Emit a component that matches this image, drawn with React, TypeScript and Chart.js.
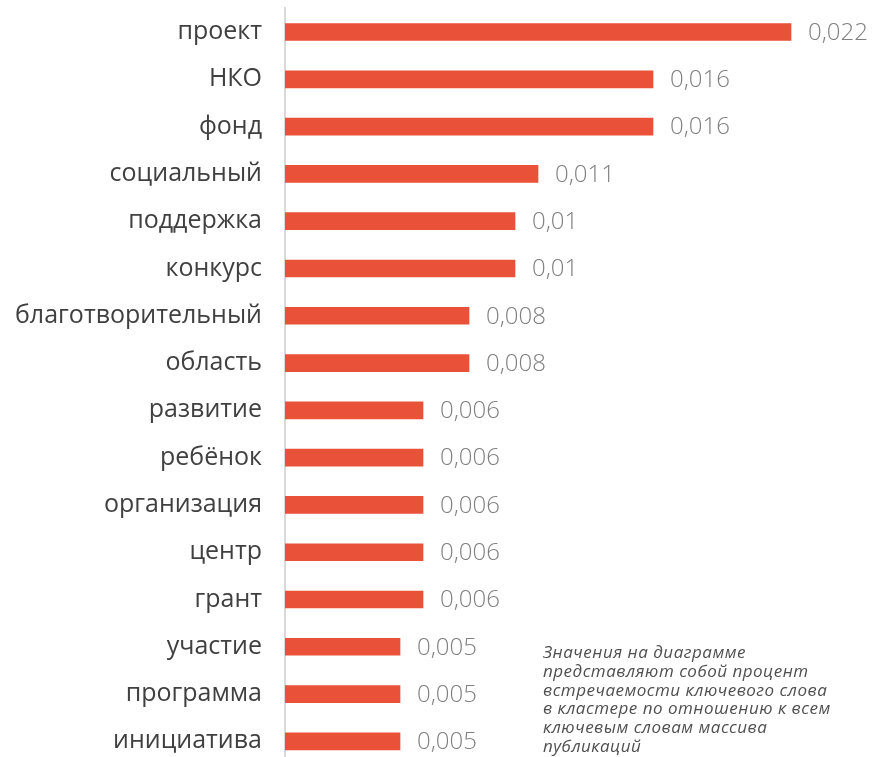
import React, { useEffect, useRef } from "react";
import { Chart, registerables } from "chart.js";

Chart.register(...registerables);

const categories = [
  "проект",
  "НКО",
  "фонд",
  "социальный",
  "поддержка",
  "конкурс",
  "благотворительный",
  "область",
  "развитие",
  "ребёнок",
  "организация",
  "центр",
  "грант",
  "участие",
  "программа",
  "инициатива",
];

const values = [0.022, 0.016, 0.016, 0.011, 0.01, 0.01, 0.008, 0.008, 0.006, 0.006, 0.006, 0.006, 0.006, 0.005, 0.005, 0.005];

const valueLabels = values.map((v) => String(v).replace(".", ","));

const noteLines = [
  "Значения на диаграмме",
  "представляют собой процент",
  "встречаемости ключевого слова",
  "в кластере по отношению к всем",
  "ключевым словам массива",
  "публикаций",
];

const FONT = "'Open Sans', 'DejaVu Sans', sans-serif";

const valueLabelPlugin = {
  id: "valueLabels",
  afterDatasetsDraw(chart: any) {
    const ctx = chart.ctx;
    const meta = chart.getDatasetMeta(0);
    ctx.save();
    ctx.font = `300 24px ${FONT}`;
    ctx.fillStyle = "#808080";
    ctx.textAlign = "left";
    ctx.textBaseline = "middle";
    meta.data.forEach((bar: any, i: number) => {
      ctx.fillText(valueLabels[i], bar.x + 17, bar.y + 1);
    });
    ctx.restore();
  },
};

export default function App() {
  const ref = useRef<HTMLCanvasElement>(null);
  useEffect(() => {
    if (!ref.current) return;
    const chart = new Chart(ref.current, {
      type: "bar",
      data: {
        labels: categories,
        datasets: [
          {
            data: values,
            backgroundColor: "#ea5139",
            borderWidth: 0,
            barThickness: 17,
          },
        ],
      },
      options: {
        indexAxis: "y",
        animation: false,
        responsive: false,
        maintainAspectRatio: false,
        layout: { padding: { top: 8.4, right: 13, bottom: 0, left: 0 } },
        plugins: {
          legend: { display: false },
          tooltip: { enabled: false },
        },
        scales: {
          x: {
            min: 0,
            max: 0.025,
            display: false,
          },
          y: {
            afterFit(scale: any) {
              scale.width = 285;
              scale.paddingTop = 0;
              scale.paddingBottom = 0;
            },
            grid: { display: false, drawTicks: false },
            border: { display: true, color: "#d9d9d9", width: 2 },
            ticks: {
              padding: 23,
              color: "#404040",
              font: { family: FONT, size: 25 },
            },
          },
        },
      },
      plugins: [valueLabelPlugin],
    });
    return () => chart.destroy();
  }, []);
  return (
    <div style={{ position: "absolute", left: 0, top: 0, width: 873, height: 757, overflow: "hidden", background: "#fff" }}>
      <canvas ref={ref} width={873} height={765} style={{ position: "absolute", left: 0, top: 0 }} />
      <div
        style={{
          position: "absolute",
          left: 543,
          top: 643,
          fontFamily: FONT,
          fontStyle: "italic",
          fontSize: 17,
          letterSpacing: 0.5,
          lineHeight: "18.8px",
          color: "#505050",
          whiteSpace: "nowrap",
        }}
      >
        {noteLines.map((l, i) => (
          <div key={i}>{l}</div>
        ))}
      </div>
    </div>
  );
}
